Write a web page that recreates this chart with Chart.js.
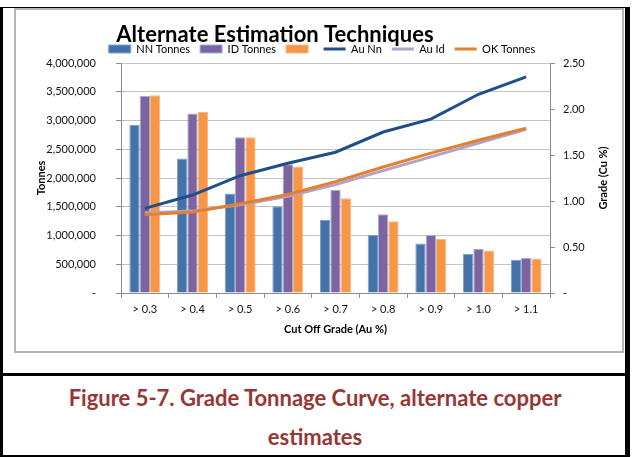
<!DOCTYPE html>
<html>
<head>
<meta charset="utf-8">
<script src="https://cdn.jsdelivr.net/npm/chart.js@4.4.0/dist/chart.umd.min.js"></script>
<style>
  html, body { margin: 0; padding: 0; background: #fff; }
  body { width: 635px; height: 457px; position: relative; overflow: hidden; font-family: Lato, sans-serif; }
  #outer { position: absolute; left: 0; top: 7px; width: 630px; height: 450px; box-sizing: border-box;
           border-style: solid; border-color: #000; border-width: 1px 5px 2px 3px; }
  #rule { position: absolute; left: 0; top: 373px; width: 630px; height: 3px; background: #000; }
  #frame { position: absolute; left: 14px; top: 8px; width: 610px; height: 345px; box-sizing: border-box;
           border: 2px solid #b4b4b4; background: #fff; }
  #chart { position: absolute; left: 16px; top: 10px; }
  .cap { position: absolute; left: 0; width: 630px; text-align: center; color: #953735;
         font-family: Lato, sans-serif; font-weight: bold; font-size: 22px; line-height: 30px; }
</style>
</head>
<body>
<div id="outer"></div>
<div id="frame"></div>
<canvas id="chart" width="606" height="341"></canvas>
<div id="rule"></div>
<div class="cap" style="top:383px;">Figure 5-7. Grade Tonnage Curve, alternate copper</div>
<div class="cap" style="top:422px;">estimates</div>

<script>
// Cut-off grade classes
const categories = ['> 0.3', '> 0.4', '> 0.5', '> 0.6', '> 0.7', '> 0.8', '> 0.9', '> 1.0', '> 1.1'];

// Tonnes above cut-off for each estimation method
const nnTonnes = [2920000, 2340000, 1730000, 1510000, 1270000, 1010000, 860000, 680000, 580000];
const idTonnes = [3430000, 3120000, 2710000, 2240000, 1790000, 1370000, 1010000, 770000, 610000];
const okTonnes = [3440000, 3150000, 2710000, 2200000, 1650000, 1250000, 940000, 740000, 600000];

// Average grade above cut-off (Cu %)
const auNnGrade = [0.92, 1.065, 1.275, 1.41, 1.53, 1.75, 1.89, 2.16, 2.35];
const auIdGrade = [0.87, 0.89, 0.96, 1.05, 1.18, 1.33, 1.48, 1.63, 1.78];
const okGrade   = [0.85, 0.88, 0.97, 1.07, 1.21, 1.37, 1.52, 1.66, 1.79];

// Axis ranges
const tonnesMax = 4000000, tonnesStep = 500000;
const gradeMax = 2.5, gradeStep = 0.5;

const tickFont = { family: 'Lato', size: 11 };
const boldFont = { family: 'Lato', size: 11, weight: 'bold' };
const axisGray = '#8c8c8c';

// Moves the chart title and legend, and draws the right-hand axis title reading bottom-to-top
const headerAndRightTitle = {
  id: 'headerAndRightTitle',
  afterLayout(chart) {
    const t = chart.titleBlock;
    if (t) { t.left -= 44; t.right -= 44; t.top += 14; t.bottom += 14; }
    const lg = chart.legend;
    if (lg) { lg.left += 3; lg.right += 3; lg.top += 1.5; lg.bottom += 1.5; }
  },
  afterDraw(chart) {
    const { ctx, chartArea } = chart;
    const s = chart.scales.y1;
    ctx.save();
    ctx.translate(s.right - 19, (chartArea.top + chartArea.bottom) / 2);
    ctx.rotate(-Math.PI / 2);
    ctx.font = 'bold 11px Lato';
    ctx.fillStyle = '#000';
    ctx.textAlign = 'center';
    ctx.textBaseline = 'middle';
    ctx.fillText('Grade (Cu %)', 0, 0);
    ctx.restore();
  }
};

new Chart(document.getElementById('chart'), {
  type: 'bar',
  data: {
    labels: categories,
    datasets: [
      { label: 'NN Tonnes', data: nnTonnes, yAxisID: 'y', order: 10, pointStyle: 'rect',
        backgroundColor: '#4672aa', borderColor: '#7b9fd0', borderWidth: 1 },
      { label: 'ID Tonnes', data: idTonnes, yAxisID: 'y', order: 11, pointStyle: 'rect',
        backgroundColor: '#7f63a1', borderColor: '#94b3e0', borderWidth: 1 },
      { label: '', data: okTonnes, yAxisID: 'y', order: 12, pointStyle: 'rect',
        backgroundColor: '#f79646', borderColor: '#fbb77e', borderWidth: 1 },
      { type: 'line', label: 'Au Nn', data: auNnGrade, yAxisID: 'y1', order: 3, pointStyle: 'line',
        borderColor: '#1f4e89', backgroundColor: '#1f4e89', borderWidth: 3, pointRadius: 0, tension: 0 },
      { type: 'line', label: 'Au Id', data: auIdGrade, yAxisID: 'y1', order: 2, pointStyle: 'line',
        borderColor: '#b3a2c7', backgroundColor: '#b3a2c7', borderWidth: 3, pointRadius: 0, tension: 0 },
      { type: 'line', label: 'OK Tonnes', data: okGrade, yAxisID: 'y1', order: 1, pointStyle: 'line',
        borderColor: '#e3802f', backgroundColor: '#e3802f', borderWidth: 3, pointRadius: 0, tension: 0 }
    ]
  },
  options: {
    responsive: false,
    animation: false,
    layout: { padding: { top: 0, left: 0, right: 0, bottom: 0 } },
    datasets: { bar: { barPercentage: 1, categoryPercentage: 0.65 } },
    plugins: {
      title: {
        display: true,
        text: 'Alternate Estimation Techniques',
        color: '#000',
        font: { family: 'Lato', size: 22, weight: 'bold', lineHeight: 1 },
        padding: 0
      },
      legend: {
        labels: {
          usePointStyle: true,
          pointStyleWidth: 22,
          boxHeight: 8,
          padding: 10,
          color: '#000',
          font: tickFont,
          sort: (a, b) => a.datasetIndex - b.datasetIndex
        }
      },
      tooltip: { enabled: false }
    },
    scales: {
      x: {
        grid: { display: true, drawOnChartArea: false, tickLength: 5, color: axisGray },
        border: { color: axisGray },
        ticks: { padding: 5, color: '#111', font: tickFont },
        title: { display: true, text: 'Cut Off Grade (Au %)', color: '#000', font: boldFont,
                 padding: { top: 0, bottom: 15 } },
        afterFit(s) { s.height = 58; }
      },
      y: {
        position: 'left',
        min: 0, max: tonnesMax,
        ticks: { stepSize: tonnesStep, padding: 20, color: '#111', font: tickFont,
                 callback: v => v === 0 ? '-' : v.toLocaleString('en-US') },
        grid: { color: '#c3c3c3', tickLength: 5, tickColor: axisGray },
        border: { color: axisGray },
        title: { display: true, text: 'Tonnes', color: '#000', font: boldFont,
                 padding: { top: 19, bottom: 0 } },
        afterFit(s) { s.width = 105; }
      },
      y1: {
        position: 'right',
        min: 0, max: gradeMax,
        ticks: { stepSize: gradeStep, padding: 8, color: '#111', font: tickFont,
                 callback: v => v === 0 ? '-' : v.toFixed(2) },
        grid: { drawOnChartArea: false, tickLength: 5, color: axisGray },
        border: { color: axisGray },
        afterFit(s) { s.width = 72; }
      }
    }
  },
  plugins: [headerAndRightTitle]
});
</script>
</body>
</html>
